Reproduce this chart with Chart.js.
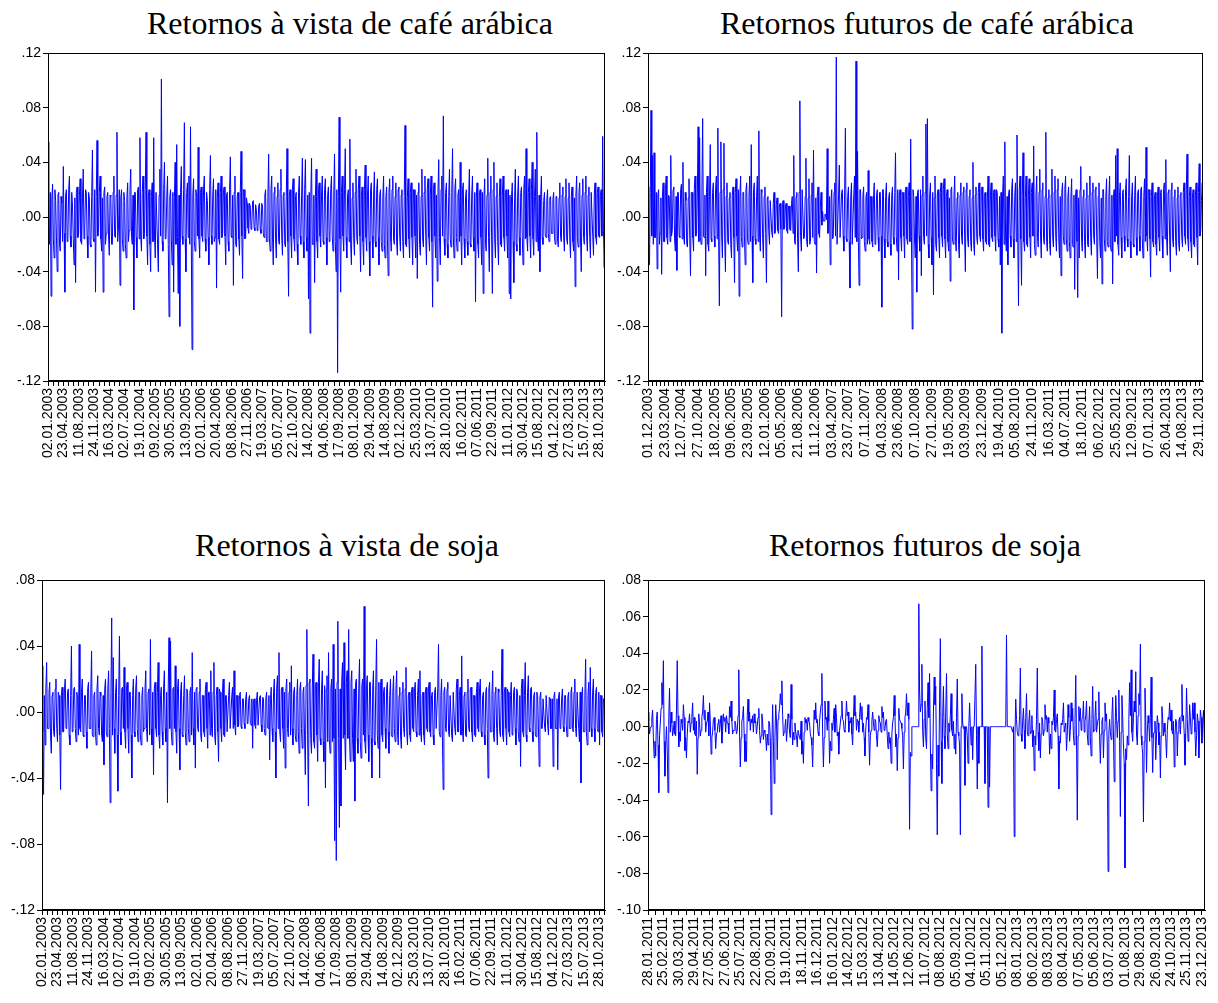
<!DOCTYPE html>
<html>
<head>
<meta charset="utf-8">
<script src="https://cdn.jsdelivr.net/npm/chart.js@4.4.1/dist/chart.umd.min.js"></script>
<style>
  html, body { margin: 0; padding: 0; background: #fff; }
  body { width: 1218px; height: 1003px; position: relative; overflow: hidden; }
  canvas { position: absolute; }
  .ttl { position: absolute; transform: translateX(-50%); white-space: nowrap;
         font-family: 'Liberation Serif', 'Times New Roman', serif; font-size: 32px; line-height: 1; color: #000; }
</style>
</head>
<body>
<div class="ttl" style="left:350px; top:7px;">Retornos à vista de café arábica</div>
<div class="ttl" style="left:927px; top:7px;">Retornos futuros de café arábica</div>
<div class="ttl" style="left:347px; top:529px;">Retornos à vista de soja</div>
<div class="ttl" style="left:925px; top:529px;">Retornos futuros de soja</div>
<canvas id="c1" width="615" height="430" style="left:0px; top:40px;"></canvas>
<canvas id="c2" width="608" height="430" style="left:610px; top:40px;"></canvas>
<canvas id="c3" width="615" height="438" style="left:0px; top:565px;"></canvas>
<canvas id="c4" width="608" height="438" style="left:610px; top:565px;"></canvas>
<script>
// ---------- tick labels ----------
const datesVista = ["02.01.2003","23.04.2003","11.08.2003","24.11.2003","16.03.2004","02.07.2004","19.10.2004","09.02.2005","30.05.2005","13.09.2005","02.01.2006","20.04.2006","08.08.2006","27.11.2006","19.03.2007","05.07.2007","22.10.2007","14.02.2008","04.06.2008","17.09.2008","08.01.2009","29.04.2009","14.08.2009","02.12.2009","25.03.2010","13.07.2010","28.10.2010","16.02.2011","07.06.2011","22.09.2011","11.01.2012","30.04.2012","15.08.2012","04.12.2012","27.03.2013","15.07.2013","28.10.2013"];
const datesCafeFut = ["01.12.2003","23.03.2004","12.07.2004","27.10.2004","18.02.2005","09.06.2005","23.09.2005","12.01.2006","05.05.2006","21.08.2006","11.12.2006","03.04.2007","23.07.2007","07.11.2007","04.03.2008","23.06.2008","07.10.2008","27.01.2009","19.05.2009","03.09.2009","23.12.2009","19.04.2010","05.08.2010","24.11.2010","16.03.2011","04.07.2011","18.10.2011","06.02.2012","25.05.2012","12.09.2012","07.01.2013","26.04.2013","14.08.2013","29.11.2013"];
const datesSojaFut = ["28.01.2011","25.02.2011","30.03.2011","29.04.2011","27.05.2011","27.06.2011","25.07.2011","22.08.2011","20.09.2011","19.10.2011","18.11.2011","16.12.2011","16.01.2012","14.02.2012","15.03.2012","13.04.2012","14.05.2012","12.06.2012","11.07.2012","08.08.2012","05.09.2012","04.10.2012","05.11.2012","05.12.2012","08.01.2013","06.02.2013","08.03.2013","08.04.2013","07.05.2013","05.06.2013","03.07.2013","01.08.2013","29.08.2013","26.09.2013","24.10.2013","25.11.2013","23.12.2013"];

const yTicksCafe = [-0.12, -0.08, -0.04, 0, 0.04, 0.08, 0.12];
const yTicksSojaVista = [-0.12, -0.08, -0.04, 0, 0.04, 0.08];
const yTicksSojaFut = [-0.10, -0.08, -0.06, -0.04, -0.02, 0, 0.02, 0.04, 0.06, 0.08];

// ---------- series (daily returns, in thousandths; one row per date-label interval) ----------
const cafeVista = [
55,-15,-20,18,-58,14,24,-16,-30,20,12,-14,-40,16,18,-20,-25,15,10,-18,
37,-12,-55,16,20,-18,-15,20,30,-14,-22,18,8,-16,-35,14,-48,18,22,-15,
-12,16,28,-18,-20,14,35,-16,-8,20,18,-14,-30,18,14,-20,-22,15,49,-16,
-18,20,-55,15,56,-14,-10,18,30,-16,-25,14,-55,18,22,-20,-12,15,18,-14,
-28,16,15,-20,-20,18,30,-14,-15,16,62,-18,-8,20,-50,14,20,-16,-25,18,
12,-20,-30,15,25,-18,-10,20,35,-14,-20,16,-68,18,18,-15,-30,20,22,-16,
58,-14,-25,18,30,-16,-12,20,62,-14,-35,16,20,-20,-40,15,25,-18,58,-14,
-30,18,18,-20,-40,16,35,-14,101,-18,-25,20,40,-16,-15,14,30,-20,-73,15,
20,-16,-35,18,-55,14,40,-20,53,-15,-56,16,-80,18,37,-14,-20,20,69,-16,
-40,18,25,-15,30,-20,66,-14,-97,16,28,-18,-25,20,15,-14,51,-16,-30,18,
22,-14,-18,20,30,-16,-25,18,12,-15,-35,20,45,-14,-20,16,28,-18,-15,20,
-52,14,25,-16,-20,18,30,-15,-12,20,22,-14,-35,16,18,-18,-25,20,44,-14,
-15,16,-50,18,30,-20,-22,15,18,-16,-28,18,48,-14,-45,20,20,-16,-15,14,
10,-8,-12,10,8,-9,-6,11,12,-8,-10,9,5,-10,-8,8,10,-9,-12,10,
8,-12,-15,16,20,-18,-18,14,46,-16,-25,20,30,-14,-35,18,22,-16,-30,15,
25,-18,-20,20,35,-14,-28,16,18,-20,-22,15,50,-18,-58,16,20,-14,-30,20,
28,-16,-25,15,18,-20,-35,18,30,-14,-20,16,43,-18,-30,20,42,-15,-25,16,
-60,18,-85,14,43,-20,-20,16,-48,15,35,-18,-30,20,25,-14,-22,16,30,-18,
-20,20,28,-15,-35,16,22,-18,-15,20,30,-14,-25,16,46,-18,-40,20,-114,15,
73,-16,-55,18,30,-14,-25,20,50,-15,-30,16,20,-18,57,-20,-35,14,25,-16,
-28,18,35,-15,-20,20,30,-14,-40,16,22,-18,-35,20,38,-15,-25,16,30,-18,
-43,20,25,-14,-30,16,33,-18,-22,20,28,-15,-35,16,20,-18,-25,14,30,-20,
-30,15,22,-16,-43,18,28,-14,-25,20,30,-16,-20,15,25,-18,-28,20,22,-14,
-25,16,20,-18,-30,15,67,-20,-22,14,28,-16,-30,18,25,-15,-35,20,20,-14,
-30,16,-45,18,25,-20,-28,15,35,-16,-22,18,30,-14,-35,20,28,-15,-25,16,
30,-18,-66,20,25,-14,-30,16,-47,18,42,-15,-35,20,30,-14,74,-16,-28,18,
25,-20,-30,15,35,-16,-22,18,50,-14,-30,20,28,-15,-25,16,20,-18,40,-14,
-35,20,25,-16,-30,15,20,-18,-28,14,35,-20,-22,16,30,-15,-25,18,-62,14,
25,-20,-30,16,20,-15,-35,18,-56,14,28,-20,-25,16,43,-15,-40,18,30,-14,
-56,20,40,-16,-30,15,25,-18,-35,14,28,-20,-22,16,30,-15,-25,18,20,-14,
-30,20,-56,16,-60,15,25,-18,-48,14,35,-20,-25,16,30,-15,-28,18,22,-14,
-35,20,30,-16,50,-15,-25,18,28,-14,-30,20,40,-16,-28,15,35,-18,62,-14,
-25,16,-40,14,30,-15,-20,12,18,-14,-15,12,20,-12,-18,14,15,-12,-12,13,
18,-14,-20,15,15,-16,-22,14,25,-15,-18,16,22,-14,-25,15,28,-16,-20,14,
25,-16,-30,15,22,-18,-25,14,-51,16,30,-15,-22,18,25,-14,-40,16,28,-15,
-20,18,30,-14,-25,16,22,-15,-30,18,18,-14,-28,16,25,-15,-20,18,22,-14,
-15,16,20,-14,59,-10,-37,-8
];

const cafeFuturos = [
22,-16,-35,18,78,-14,45,-20,47,-15,-15,18,-38,16,20,-20,-12,14,-42,16,25,-18,
-18,20,30,-15,-20,16,15,-18,45,-14,-10,20,22,-16,-25,15,-39,18,18,-14,-15,20,
24,-16,40,-15,-20,18,12,-20,-22,14,28,-16,-43,18,18,-15,-25,20,30,-14,-12,16,
66,-18,58,-15,-20,20,72,-14,-15,16,-43,18,30,-20,-25,15,53,-16,-18,18,25,-14,
-22,20,30,-16,65,-15,-65,18,55,-14,-30,20,54,-16,-40,15,25,-18,-20,14,18,-20,
-30,16,22,-15,-48,18,28,-14,-25,20,-58,16,30,-15,-22,18,18,-14,-35,20,25,-16,
-20,15,30,-18,53,-14,-48,20,25,-16,-20,15,30,-18,63,-14,-25,20,18,-16,-30,15,
22,-12,-48,14,15,-10,-20,12,12,-11,-15,10,18,-12,-10,9,14,-10,-12,8,10,-9,
-73,10,12,-9,-8,8,10,-10,-12,8,8,-9,-10,10,15,-12,45,-18,-20,15,18,-16,
-40,18,85,-14,-25,20,20,-16,-15,15,43,-18,-22,14,28,-20,-18,16,25,-15,49,-18,
-20,14,-41,16,22,-12,-15,8,18,-6,4,-3,-3,2,2,-2,50,-12,-10,15,-35,12,
20,-16,-15,18,25,-14,117,-20,-20,16,38,-15,-15,18,20,-14,-25,20,65,-16,-18,15,
22,-18,-52,14,25,-20,-20,16,30,-15,114,-18,48,-14,-50,20,20,-16,-15,15,22,-18,
-25,14,18,-20,34,-16,-20,15,15,-18,-22,14,25,-20,-18,16,20,-15,-25,18,18,-14,
-66,20,20,-16,-30,15,25,-18,-22,14,18,-20,-28,16,22,-15,-20,18,47,-14,-25,20,
-46,16,20,-15,-25,18,18,-14,-30,20,22,-16,-20,15,25,-18,57,-14,-82,20,15,-16,
-30,15,-55,18,20,-14,-25,20,-43,16,30,-15,-20,18,68,-14,72,-20,-30,16,25,-15,
-35,18,-57,14,30,-20,-25,16,20,-15,-30,18,25,-14,-22,20,28,-16,-30,15,20,-18,
-25,14,-47,20,22,-16,-20,15,30,-18,-25,14,18,-20,-30,16,25,-15,-20,18,22,-14,
-40,20,25,-16,-22,15,20,-18,-25,14,40,-20,-28,16,22,-15,-20,18,25,-14,-18,20,
22,-16,-25,15,18,-18,-20,14,30,-20,-22,16,25,-15,-18,18,20,-14,-25,20,18,-16,
-22,15,-35,18,-85,14,30,-20,55,-16,-25,15,-35,18,20,-14,-22,20,28,-16,-30,15,
25,-18,60,-14,-65,20,30,-16,-50,15,47,-18,-25,14,30,-20,-22,16,28,-15,-30,18,
25,-14,52,-20,-28,16,30,-15,-22,18,35,-14,-30,20,25,-16,-20,15,62,-18,-25,14,
20,-20,-28,16,35,-15,-22,18,30,-14,-25,20,28,-16,-30,15,-43,18,25,-14,-20,20,
30,-16,-25,15,22,-18,-30,14,28,-20,-22,16,-53,15,20,-18,-59,14,-30,20,37,-16,
-25,15,20,-18,-30,14,25,-20,-22,16,30,-15,-28,18,25,-14,-20,20,22,-16,-45,15,
25,-18,-30,14,-49,20,20,-16,-25,15,28,-18,-22,14,30,-20,-25,16,-49,15,20,-18,
45,-14,50,-20,-28,16,25,-15,-30,18,20,-14,-25,20,28,-16,-22,15,45,-18,-30,14,
25,-20,-22,16,30,-15,-28,18,20,-14,-25,20,22,-16,-30,15,28,-18,51,-14,-25,20,
20,-16,-44,15,25,-18,-22,14,18,-20,-28,16,22,-15,-25,18,20,-14,-30,20,25,-16,
42,-15,-28,18,20,-14,-40,20,25,-16,-22,15,20,-18,-28,14,22,-20,-25,16,18,-15,
-22,18,25,-14,-20,20,46,-16,-25,15,22,-18,-30,14,20,-20,-22,16,25,-15,-35,18,
39,-14,-10,12,25,-8
];

const sojaVista = [
28,-12,-50,10,-20,14,30,-10,-10,12,18,-14,-25,10,12,-12,-15,14,20,-10,
-18,12,10,-14,-47,10,15,-12,-12,14,20,-10,-8,12,14,-14,-20,10,40,-12,
-10,14,15,-10,-18,12,8,-14,41,-10,-12,12,20,-14,-15,10,10,-12,-22,14,
18,-10,-10,12,37,-14,-15,10,12,-12,-20,14,22,-10,-14,12,10,-14,-18,10,
-32,14,20,-12,-15,14,25,-10,-55,12,57,-14,33,-10,-25,12,20,-14,-48,10,
46,-12,-20,14,15,-10,27,-12,-22,14,18,-10,-25,12,12,-14,-40,10,20,-12,
-15,14,22,-10,-18,12,12,-14,-20,10,15,-12,-10,14,25,-10,-18,12,14,-14,
44,-10,-20,12,-38,14,18,-10,-15,12,30,-14,-22,10,15,-12,-20,14,25,-10,
-18,12,-55,14,45,-10,43,-12,-20,14,15,-10,28,-12,-25,14,20,-10,-35,12,
18,-14,-15,10,22,-12,-20,14,12,-10,-18,12,15,-14,36,-10,-20,12,-34,14,
15,-10,-12,12,20,-14,-18,10,10,-12,-15,14,18,-10,-22,12,12,-14,25,-10,
-15,12,30,-14,-20,10,15,-12,-30,14,12,-10,-18,12,20,-14,-15,10,10,-12,
-12,10,18,-10,-10,9,15,-10,25,-8,-14,10,10,-9,-8,10,12,-9,-10,8,
8,-7,-10,8,12,-7,-6,8,10,-7,-8,8,-22,7,8,-8,-10,7,12,-8,
-8,9,10,-8,-12,9,8,-10,-14,8,12,-9,-10,10,-29,8,15,-10,-18,12,
20,-12,-40,14,22,-10,36,-12,-18,14,15,-10,-22,12,-34,14,20,-10,-15,12,
18,-14,28,-10,-20,12,15,-14,-18,10,20,-12,-25,14,18,-10,-22,12,15,-14,
-38,16,50,-14,-57,18,20,-16,-25,14,35,-18,-22,16,18,-14,-30,18,32,-16,
-20,14,25,-18,-30,16,-46,14,22,-18,36,-16,-25,14,20,-18,41,-16,-78,14,
-90,18,55,-16,-70,14,-57,18,30,-16,42,-14,-35,18,25,-16,50,-14,-30,18,
25,-16,-30,14,-54,18,20,-16,-25,14,32,-18,-28,16,20,-14,64,-18,-25,16,
22,-14,-30,18,18,-16,-40,14,25,-18,-20,16,44,-14,-22,18,-40,16,20,-14,
-18,12,15,-10,-22,14,18,-12,-25,10,20,-14,-15,12,22,-10,-18,14,25,-12,
-20,10,15,-14,-22,12,18,-10,-15,14,27,-12,-20,10,12,-14,-18,12,15,-10,
-12,14,18,-12,-15,10,20,-14,25,-12,-18,10,12,-14,-20,12,15,-10,-12,14,
18,-12,-15,10,12,-14,-20,12,15,-10,-10,14,41,-12,-15,10,20,-14,-47,12,
15,-10,-12,14,18,-12,-15,10,10,-14,-18,12,12,-10,-14,14,20,-12,-12,10,
15,-14,34,-12,-18,10,12,-14,-15,12,20,-10,-12,14,15,-12,-18,10,10,-14,
-15,12,18,-10,-12,14,20,-12,-15,10,12,-14,-20,12,15,-10,-40,14,18,-12,
-12,10,25,-14,-18,12,15,-10,-20,14,12,-12,-15,10,38,-14,-18,12,15,-10,
-20,14,12,-12,-15,10,18,-14,-12,12,15,-10,-20,14,12,-12,-18,10,-33,14,
20,-12,-15,10,30,-14,-18,12,22,-10,-12,14,15,-12,-18,10,12,-14,-15,12,
10,-8,-33,9,12,-10,-10,8,8,-9,-12,10,10,-8,-14,9,8,-10,-10,8,
-33,9,12,-10,-10,8,-35,9,12,-10,-8,8,14,-9,-12,10,10,-8,-15,9,
12,-10,-10,12,15,-10,-12,12,20,-10,-15,12,12,-10,-18,12,-43,10,15,-12,
-12,10,32,-12,-20,10,18,-12,27,-10,-15,12,20,-10,-18,12,15,-10,-12,12,
-20,10,10,-12,-15,8,8,-6
];

const sojaFuturos = [
8,3,-4,-1,0,5,9,-6,-17,-8,-16,4,8,-10,-36,-5,2,10,24,12,
36,-8,-27,-10,0,-12,-36,5,21,-3,8,2,-5,-2,3,-4,-5,8,36,6,
-11,-3,-8,4,2,-2,12,5,-13,-6,-17,-4,3,2,7,-3,2,5,13,-2,
5,-4,-5,3,-26,-6,7,2,-5,-2,5,8,17,4,9,-3,2,3,8,-5,
13,2,-15,-6,-3,4,5,-2,-12,-4,-3,2,4,-3,2,6,-9,-2,7,3,
5,-3,6,2,2,-4,11,5,14,3,-4,-2,-2,3,1,-4,-2,6,31,-4,
-22,-6,3,5,11,-4,-19,-8,-19,6,15,3,8,-2,4,2,6,-3,7,2,
3,-4,0,5,10,-2,-9,-5,7,3,-7,-2,-3,-6,-13,-4,-10,3,2,-6,
-48,-10,12,-8,-31,-6,12,3,-18,4,7,10,18,12,25,6,-5,-3,0,4,
-8,-2,7,5,-3,-6,23,4,-10,-3,-7,2,-3,-5,-11,-2,-2,-6,-7,3,
-15,-8,-20,-3,5,2,4,-2,5,3,2,-4,-6,-10,-22,-5,9,4,13,2,
4,-3,-5,3,8,12,29,-4,-22,-6,14,4,5,-2,14,3,-20,-8,-13,2,
-2,4,10,-3,12,5,-5,-3,-15,-2,2,6,14,4,3,-2,-3,5,14,6,
8,-3,3,2,5,-4,-10,4,17,6,8,-2,4,3,-3,5,13,4,11,-3,
2,-6,-16,-2,5,4,12,-3,-21,-5,-2,3,8,2,-2,4,3,-5,-11,-2,
6,3,2,-3,11,5,8,-2,-1,3,4,-5,-12,-3,-9,-6,-20,-4,2,5,
17,6,-11,-4,-24,-6,10,4,3,2,-1,-5,-23,-3,5,8,18,6,13,4,
-56,-14,-16,0,0,0,0,0,0,0,0,0,67,20,8,12,34,-2,-11,4,
14,-6,-12,10,24,5,29,-10,-35,-15,-23,8,27,12,22,-20,-59,-10,-27,15,
48,-8,-31,5,22,-5,-12,8,29,-4,-12,2,-3,6,18,-2,-5,3,-12,-4,
-15,5,26,-3,-5,-10,-59,0,18,2,-1,0,-32,0,0,-5,-20,0,13,0,
-10,0,-18,0,0,0,34,-5,-34,0,-20,0,0,0,44,0,0,0,-31,0,
0,0,-44,0,-33,0,0,0,0,0,0,0,0,0,0,0,0,0,0,0,
0,0,0,0,0,0,50,0,0,0,0,0,0,0,-3,0,-60,-5,15,4,
-3,-5,-4,6,32,-4,-8,3,10,-2,-12,5,18,-3,-5,2,9,-4,-3,6,
-11,-2,-24,-5,-10,4,32,-3,-13,2,-17,-4,5,3,-5,-2,12,4,6,-3,
5,2,-15,-4,-12,3,1,5,20,-2,-3,4,7,-5,-34,-8,-9,2,1,4,
13,-3,-3,2,-13,-4,12,5,-8,-2,13,3,10,-5,-10,4,28,-8,-51,-5,
11,3,10,-2,4,5,14,-3,3,6,14,-4,-10,2,11,-6,-16,4,22,-3,
-2,5,14,-3,1,4,19,-5,-20,-4,3,5,-17,-2,13,3,7,-10,-79,-4,
4,-3,-7,6,16,-4,-30,-6,17,5,-6,3,20,-8,-49,-3,17,5,-10,-20,
-77,-12,-18,-5,-10,4,24,6,31,-3,-8,5,14,8,30,-4,-10,6,18,12,
45,-5,-10,-15,-52,-8,21,4,-25,-3,6,2,-8,5,27,-6,-25,-4,-3,3,
-18,-4,6,2,-10,-3,-28,-5,11,4,-5,2,-3,-6,-17,-2,5,4,13,3,
9,-2,-4,3,-22,-5,4,2,-16,-3,3,5,-4,6,23,3,6,-4,-21,-3,
21,4,-8,-3,12,5,-4,-2,13,4,13,-3,-16,-5,7,3,-17,-4,9,5,
-9,2,9,-4,-17
];

// ---------- helpers ----------
const FONT = "'Liberation Sans', Arial, sans-serif";
function fmtY(v) {
  const r = Math.round(v * 100);
  const s = (Math.abs(r) / 100).toFixed(2).replace(/^0/, '');
  return (r < 0 ? '-' : '') + s;
}

const framePlugin = {
  id: 'frame',
  afterDraw(chart) {
    const a = chart.chartArea, ctx = chart.ctx;
    ctx.save();
    ctx.strokeStyle = '#000';
    ctx.lineWidth = 1;
    ctx.strokeRect(Math.round(a.left) + 0.5, Math.round(a.top) + 0.5,
                   Math.round(a.right - a.left) - 1, Math.round(a.bottom - a.top) - 1);
    ctx.restore();
  }
};

function makeChart(id, values, dates, perLabel, ticksPerLabel, yTicks, geo) {
  const n = values.length;
  const pts = values.map((v, i) => ({ x: i, y: v / 1000 }));
  const step = perLabel / ticksPerLabel;
  const xTickVals = [];
  for (let j = 0; j * step <= n - 1 + 1e-9; j++) xTickVals.push(j * step);
  new Chart(document.getElementById(id), {
    type: 'line',
    data: { datasets: [{ data: pts, borderColor: '#0000ff', borderWidth: 1, pointRadius: 0,
                         tension: 0, fill: false }] },
    options: {
      responsive: false, animation: false, devicePixelRatio: 1, parsing: false, normalized: true,
      layout: { padding: { top: geo.padTop, right: geo.padRight, left: 0, bottom: 0 } },
      plugins: { legend: { display: false }, tooltip: { enabled: false }, title: { display: false } },
      scales: {
        x: {
          type: 'linear', min: 0, max: n - 1,
          afterBuildTicks: (s) => { s.ticks = xTickVals.map(v => ({ value: v })); },
          afterFit: (s) => { s.height = geo.xH; s.paddingLeft = 0; s.paddingRight = 0; },
          grid: { drawOnChartArea: false, drawTicks: true, tickLength: 5, color: '#000' },
          border: { display: true, color: '#000' },
          ticks: {
            autoSkip: false, minRotation: 90, maxRotation: 90, padding: 2, color: '#000',
            font: { family: FONT, size: 14 },
            callback: (v) => {
              const k = v / perLabel, kr = Math.round(k);
              return (Math.abs(k - kr) < 1e-6 && kr < dates.length) ? dates[kr] : '';
            }
          }
        },
        y: {
          type: 'linear', min: yTicks[0], max: yTicks[yTicks.length - 1],
          afterBuildTicks: (s) => { s.ticks = yTicks.map(v => ({ value: v })); },
          afterFit: (s) => { s.width = geo.yW; s.paddingTop = 0; s.paddingBottom = 0; },
          grid: { drawOnChartArea: false, drawTicks: true, tickLength: 5, color: '#000' },
          border: { display: true, color: '#000' },
          ticks: { padding: 2, color: '#000', font: { family: FONT, size: 14 }, callback: (v) => fmtY(v) }
        }
      }
    },
    plugins: [framePlugin]
  });
}

makeChart('c1', cafeVista, datesVista, 20, 3, yTicksCafe, { yW: 48, padTop: 13, padRight: 10, xH: 89 });
makeChart('c2', cafeFuturos, datesCafeFut, 22, 4, yTicksCafe, { yW: 38, padTop: 13, padRight: 15, xH: 89 });
makeChart('c3', sojaVista, datesVista, 20, 3, yTicksSojaVista, { yW: 42, padTop: 15, padRight: 10, xH: 93 });
makeChart('c4', sojaFuturos, datesSojaFut, 20, 2, yTicksSojaFut, { yW: 38, padTop: 15, padRight: 13, xH: 93 });
</script>
</body>
</html>
